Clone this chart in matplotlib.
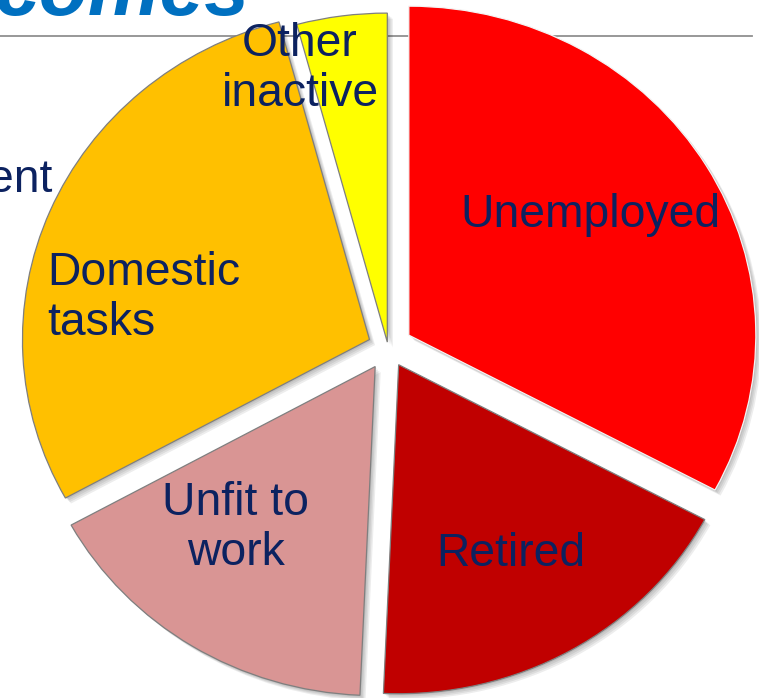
import matplotlib
matplotlib.use('Agg')
import matplotlib.pyplot as plt
import matplotlib.patheffects as pe

# share of the economically inactive, by status (%)
categories = ['Unemployed', 'Retired', 'Unfit to work', 'Domestic tasks', 'Other inactive']
shares = [32.8, 17.9, 16.3, 28.8, 4.2]
explode = [0.07, 0.062, 0.07, 0.058, 0.015]
colors = ['#FF0000', '#C00000', '#D99594', '#FFC000', '#FFFF00']
edges = ['#F4F4F4', '#7F7F7F', '#7F7F7F', '#7F7F7F', '#7F7F7F']

W, H = 759, 698
CX, CY = 388, 347      # pie centre in pixels
RX, RY = 347, 329      # pie is stretched a little horizontally


def px(x, y):
    # pixel position -> data coordinates of the pie axes
    return (x - CX) / RX, (CY - y) / RY


plt.rcParams['font.family'] = ['Liberation Sans', 'DejaVu Sans']
navy = '#0C2260'

fig = plt.figure(figsize=(W / 100, H / 100), dpi=100)
ax = fig.add_axes([0, 0, 1, 1])

# rule under the slide title
x0, y0 = px(0, 36)
x1, _ = px(752, 36)
ax.plot([x0, x1], [y0, y0], color='#909090', lw=1.3, zorder=0)

wedges, _ = ax.pie(shares, explode=explode, colors=colors, startangle=90,
                   counterclock=False, radius=1,
                   wedgeprops=dict(linewidth=0.9))

shadow = [pe.SimplePatchShadow(offset=(k, -k), shadow_rgbFace='black', alpha=0.07)
          for k in (1, 2, 3, 4)]
for w, ec in zip(wedges, edges):
    w.set_edgecolor(ec)
    w.set_zorder(2)
    w.set_path_effects(shadow + [pe.Normal()])

ax.set_aspect('auto')
ax.set_xlim(px(0, 0)[0], px(W, 0)[0])
ax.set_ylim(px(0, H)[1], px(0, 0)[1])
ax.axis('off')

fs = 33.3
labels = [
    ('Unemployed', 590, 227, 'center'),
    ('Retired', 511, 566, 'center'),
    ('Unfit to', 236, 515, 'center'),
    ('work', 236, 565, 'center'),
    ('Domestic', 47, 285, 'left'),
    ('tasks', 47, 335, 'left'),
    ('Other', 300, 56, 'center'),
    ('inactive', 300, 106, 'center'),
    ('ent', 52, 192, 'right'),
]
for txt, x, y, ha in labels:
    tx, ty = px(x, y)
    ax.text(tx, ty, txt, ha=ha, va='baseline', fontsize=fs, color=navy, zorder=5)

# slide title, mostly outside the visible area
tx, ty = px(250, 15)
ax.text(tx, ty, 'comes', ha='right', va='baseline', fontsize=58,
        fontweight='bold', fontstyle='italic', color='#0070C0', zorder=5)

fig.savefig('out.png', dpi=100)
